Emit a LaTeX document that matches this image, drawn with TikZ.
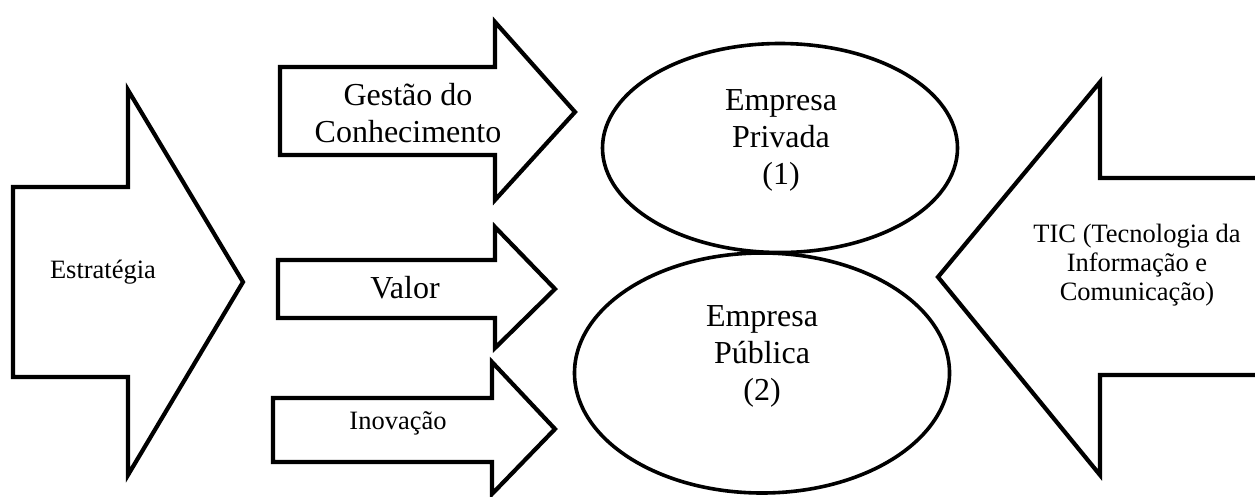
\documentclass[tikz,border=0pt]{standalone}
\usepackage{fontspec}
\setmainfont{Liberation Serif}
\usetikzlibrary{shapes.geometric}
\tikzset{
  bigarrow/.style={draw=black, line width=4.2pt, line join=miter, fill=white},
  oval/.style={draw=black, line width=3.6pt, ellipse, inner sep=0pt},
  smalltxt/.style={align=center, font=\fontsize{26.5}{30}\selectfont, inner sep=0pt},
  bigtxt/.style={align=center, font=\fontsize{32}{37}\selectfont, inner sep=0pt}
}
\begin{document}
\begin{tikzpicture}[x=1pt,y=-1pt]
\useasboundingbox (0,0) rectangle (1255,496);
\clip (0,0) rectangle (1255,496);
% Estrategia arrow
\draw[bigarrow] (13,187) -- (128,187) -- (128,90) -- (243,282) -- (128,475) -- (128,377) -- (13,377) -- cycle;
\node[smalltxt] (estr) at (103,272) {Estratégia};
% Gestao arrow
\draw[bigarrow] (280,67) -- (495,67) -- (495,22) -- (575,112) -- (495,200) -- (495,155) -- (280,155) -- cycle;
\node[bigtxt] (gest) at (408,113) {Gestão do\\Conhecimento};
% Valor arrow
\draw[bigarrow] (278,260) -- (495,260) -- (495,227) -- (555,289) -- (495,348) -- (495,318) -- (278,318) -- cycle;
\node[bigtxt] (valor) at (405,288) {Valor};
% Inovacao arrow
\draw[bigarrow] (273,398) -- (492,398) -- (492,362) -- (555,429) -- (492,494) -- (492,462) -- (273,462) -- cycle;
\node[smalltxt] (inov) at (398,423) {Inovação};
% Ellipses
\node[oval, minimum width=355pt, minimum height=209pt] (priv) at (780,148) {};
\node[bigtxt] (privtxt) at (781,140) {Empresa\\Privada\\(1)};
\node[oval, minimum width=375pt, minimum height=240pt] (pub) at (762,373) {};
\node[bigtxt] (pubtxt) at (762,356) {Empresa\\Pública\\(2)};
% TIC arrow
\draw[bigarrow] (1270,178) -- (1100,178) -- (1100,82) -- (938,277) -- (1100,475) -- (1100,375) -- (1270,375);
\node[smalltxt, font=\fontsize{26.5}{29}\selectfont] (tic) at (1137,265) {TIC (Tecnologia da\\Informação e\\Comunicação)};
\end{tikzpicture}
\end{document}
